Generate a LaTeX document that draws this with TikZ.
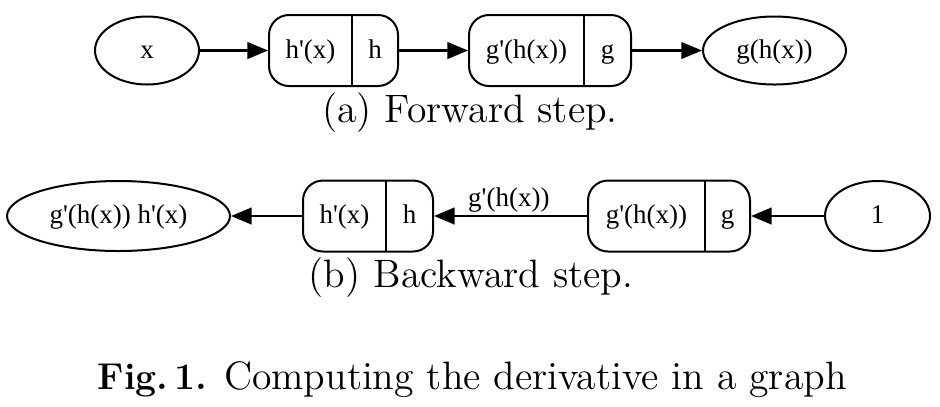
\documentclass[tikz,border=0pt]{standalone}
\usepackage{fontspec}
\newfontfamily\gvfont[Ligatures=TeXOff]{Liberation Serif}
\usetikzlibrary{shapes.geometric,arrows.meta}
\newlength\pxu
\setlength\pxu{0.3pt}
\tikzset{
  gv/.style={font=\gvfont\fontsize{8.1pt}{9pt}\selectfont, inner sep=0pt, text height=0.68em, text depth=0.22em},
  ell/.style={gv, draw, ellipse, line width=0.6pt},
  recbox/.style={draw, rounded corners=6pt, line width=0.6pt, minimum height=21.3pt, inner sep=0pt},
  cell/.style={gv},
  divider/.style={line width=0.6pt},
  edge/.style={line width=0.65pt, -{Triangle[length=6.2pt,width=5pt]}},
  captext/.style={font=\fontsize{11.9pt}{14pt}\selectfont, inner sep=0pt},
}
\begin{document}
\begin{tikzpicture}[x=0.3pt,y=-0.3pt]
\useasboundingbox (0,0) rectangle (940,406);
% ---- forward step ----
\node[ell, minimum width=104\pxu, minimum height=68\pxu] (x) at (147,50.5) {x};
\node[recbox, minimum width=129\pxu] (b1) at (333.5,50.5) {};
\node[cell] (b1a) at (310.5,50.5) {h'(x)};
\node[cell] (b1b) at (375,50.5) {h};
\draw[divider] (352,15) -- (352,86);
\node[recbox, minimum width=162\pxu] (b2) at (550,50.5) {};
\node[cell] (b2a) at (526.5,50.5) {g'(h(x))};
\node[cell] (b2b) at (607.5,50.5) {g};
\draw[divider] (584,15) -- (584,86);
\node[ell, minimum width=143\pxu, minimum height=68\pxu] (ghx) at (774.5,50.5) {g(h(x))};
\draw[edge] (x) -- (b1);
\draw[edge] (b1) -- (b2);
\draw[edge] (b2) -- (ghx);
\node[captext, anchor=base] (capa) at (470,122) {(a) Forward step.};
% ---- backward step ----
\node[ell, minimum width=223\pxu, minimum height=70\pxu] (res) at (118.5,216) {g'(h(x)) h'(x)};
\node[recbox, minimum width=130\pxu] (c1) at (368,216) {};
\node[cell] (c1a) at (344.5,216) {h'(x)};
\node[cell] (c1b) at (409.5,216) {h};
\draw[divider] (386,181) -- (386,251);
\node[recbox, minimum width=162\pxu] (c2) at (669,216) {};
\node[cell] (c2a) at (646.5,216) {g'(h(x))};
\node[cell] (c2b) at (727.5,216) {g};
\draw[divider] (705,181) -- (705,251);
\node[ell, minimum width=105\pxu, minimum height=70\pxu] (one) at (877.5,216) {1};
\draw[edge] (one) -- (c2);
\draw[edge] (c2) -- node[gv, above=0.4pt, xshift=-0.5pt] (lbl) {g'(h(x))} (c1);
\draw[edge] (c1) -- (res);
\node[captext, anchor=base] (capb) at (471,287) {(b) Backward step.};
% ---- figure caption ----
\node[captext, anchor=base west] (fig) at (97,389) {{\fontsize{11.2pt}{14pt}\selectfont\bfseries Fig.\,1.}\hspace{5pt}Computing the derivative in a graph};
\end{tikzpicture}
\end{document}
